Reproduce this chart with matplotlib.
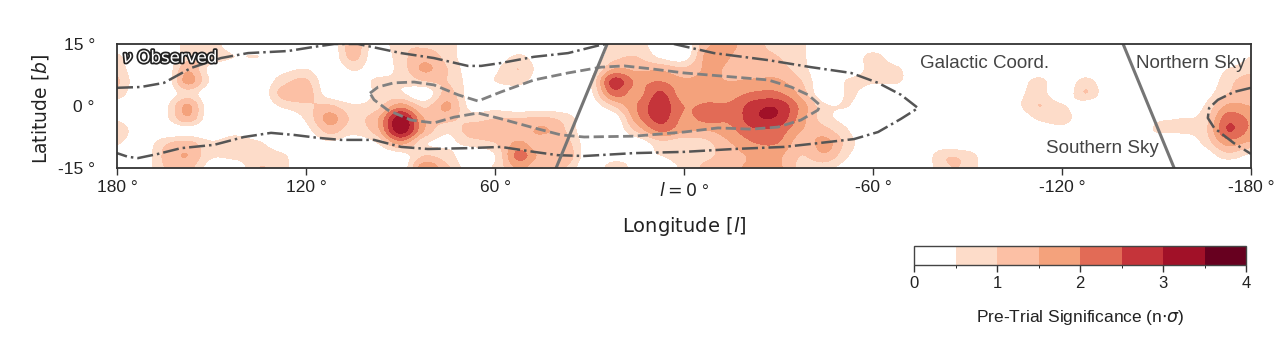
import numpy as np
import matplotlib
matplotlib.use("Agg")
import matplotlib.pyplot as plt
import matplotlib.patheffects as pe
from matplotlib.colors import ListedColormap, BoundaryNorm
from matplotlib.cm import ScalarMappable

# significance, one list per longitude (l = 180 down to -180, step 7.5)
# each list runs over latitude 15 down to -15, step 3
l_p1800 = [.2,.6,.8,1.1,.8,.2,.4,1.0,.6,0,0]
l_p1725 = [0,0,0,0,0,0,0,0,0,0,0]
l_p1650 = [0,0,0,0,0,.3,.3,0,.9,1.1,1.0]
l_p1575 = [.7,.8,1.4,1.7,.8,1.6,1.4,.2,1.2,1.5,1.2]
l_p1500 = [.8,.9,.3,.4,0,0,0,0,.6,.6,.2]
l_p1425 = [0,.5,0,0,0,0,0,.3,.8,.7,.1]
l_p1350 = [0,.5,0,0,0,0,0,0,.6,.8,1.0]
l_p1275 = [0,0,.3,.8,1.2,.6,0,0,.1,.6,.7]
l_p1200 = [0,0,.5,1.1,1.3,.9,.6,.3,0,0,0]
l_p1125 = [0,0,0,0,.2,1.1,1.7,1.2,.4,0,0]
l_p1050 = [1.3,1.2,.6,.1,0,.6,.9,.7,.1,0,0]
l_p0975 = [.2,.1,.2,.6,.6,.8,1.4,1.3,.5,0,0]
l_p0900 = [.9,.8,.7,.6,.6,1.8,3.3,3.3,1.7,.2,0]
l_p0825 = [.9,1.3,1.6,1.0,.1,.9,1.5,1.5,.6,1.0,1.9]
l_p0750 = [.7,.8,1.0,1.0,1.2,1.6,1.2,.6,.4,.7,1.1]
l_p0675 = [.2,.1,.2,.3,.2,.3,.8,1.3,.7,.1,.2]
l_p0600 = [0,.1,.4,.5,.2,.3,1.0,1.4,1.0,.5,.6]
l_p0525 = [0,.6,1.0,.7,.1,.1,1.0,1.2,1.6,2.2,1.6]
l_p0450 = [0,.1,.2,.1,0,.2,1.1,1.6,1.1,1.3,1.0]
l_p0375 = [0,0,0,0,0,.1,.8,1.0,1.2,1.4,1.0]
l_p0300 = [0,0,.2,.4,.3,.1,0,0,.1,.1,0]
l_p0225 = [.7,.8,1.5,2.7,2.2,1.0,.1,0,0,.2,.8]
l_p0150 = [.7,1.0,1.4,1.9,1.8,2.0,1.8,1.1,.1,.4,.3]
l_p0075 = [.2,.4,1.4,2.0,2.6,2.8,2.7,2.1,.8,.5,.3]
l_000 = [.1,.2,1.1,1.6,1.7,2.0,1.9,1.6,.6,.7,.6]
l_m0075 = [1.4,1.7,1.6,1.6,1.7,2.1,2.2,1.5,.9,.9,1.2]
l_m0150 = [1.6,1.5,1.4,1.5,1.8,2.1,2.1,1.9,1.5,1.3,1.4]
l_m0225 = [1.1,1.1,1.2,1.6,2.1,2.8,2.9,2.4,2.0,1.6,1.6]
l_m0300 = [.9,1.0,1.2,1.6,2.1,2.9,2.9,2.3,2.0,1.6,1.6]
l_m0375 = [.6,.6,.7,1.0,1.3,1.8,1.7,1.5,1.2,1.0,.8]
l_m0450 = [0,0,0,0,0,.6,.7,1.2,1.7,1.4,.7]
l_m0525 = [0,0,.1,.6,.6,.5,.3,.5,.7,.5,.2]
l_m0600 = [0,.7,.7,.6,.1,0,0,0,0,0,0]
l_m0675 = [0,.1,.6,.6,0,0,0,0,0,0,0]
l_m0750 = [0,0,0,0,0,0,0,0,0,0,0]
l_m0825 = [0,0,0,0,0,0,0,0,.1,.9,.9]
l_m0900 = [0,0,0,0,0,0,0,0,0,.8,.9]
l_m0975 = [0,0,0,0,0,0,0,0,0,0,0]
l_m1050 = [0,0,0,0,.2,.3,0,0,0,0,0]
l_m1125 = [0,0,0,.7,.8,1.0,.6,0,0,0,0]
l_m1200 = [0,0,0,0,0,.6,.8,.2,0,0,0]
l_m1275 = [0,0,0,.7,1.0,.1,0,0,0,0,0]
l_m1350 = [0,0,0,0,0,0,0,0,0,0,0]
l_m1425 = [0,0,0,0,0,0,0,0,0,0,0]
l_m1500 = [0,0,0,0,0,0,.4,.55,0,0,0]
l_m1575 = [.5,0,0,0,0,0,.5,.6,0,0,0]
l_m1650 = [0,0,0,0,.2,.5,.7,.8,.6,.1,0]
l_m1725 = [0,0,.5,.8,1.0,1.6,2.3,2.5,1.7,.8,0]
l_m1800 = [0,.5,.8,1.3,1.3,1.5,1.9,1.9,1.4,.4,0]

# dash-dot outline, three pieces
outer_a_lon = [180,172.4,165.1,156.5,147,138.4,125.7,117.5,111,103.5,89.8,79.4,68.6,64.4,58.1,47.6,36.8,26.3,24.4]
outer_a_lat = [4.4,4.6,5.6,9.2,11.6,12.8,13.3,14.3,15,15,12.8,11.6,9.7,9.7,10.4,11.9,12.8,14.8,15]
outer_b_lon = [3.2,-9.5,-26.7,-40.3,-53,-61.6,-68.9,-74.3,-68.9,-61.6,-54,-42.5,-31.7,-15.9,0,15.9,31.7,40,47.6,58.1,68.6,81.3,89.8,98.4,108.9,116.2,123.8,131.1,139.7,149.2,159.7,167,173.3,176.5,180]
outer_b_lat = [15,12.8,11.1,9.4,8,5.6,2.7,-0.5,-3.1,-6.3,-8,-9,-9.9,-10.4,-11.1,-11.4,-12.1,-11.9,-11.1,-9.9,-10.2,-10.4,-9.9,-8.2,-8.2,-7.7,-7,-6.5,-7.5,-9.4,-10.2,-11.6,-12.6,-12.3,-11.4]
outer_c_lon = [-180,-174.6,-169.5,-166.7,-166.3,-168.3,-174.6,-180]
outer_c_lat = [4.4,3.4,1.5,-0.5,-2.9,-5.3,-9,-11.6]

# dashed inner outline
inner_lon = [99.7,97.1,92.1,85.7,79.4,71.7,65.4,58.1,47.6,36.8,26.3,19,10.5,0,-15.9,-26.7,-34,-39.4,-43.2,-42.5,-37.1,-29.8,-21.3,-10.8,0,15.9,31.7,39,47.6,58.1,65.4,73,79.4,86.7,94,98.4,99.7]
inner_lat = [3.1,4.6,5.6,5.8,5.1,2.7,1.2,3.4,6.3,8,9.4,9.7,9,8,7,6.3,4.6,2.7,0.2,-1,-3.4,-5.1,-5.6,-5.3,-6.3,-7.3,-7.5,-7,-5.3,-3.1,-1.7,-2.7,-4.1,-3.4,-1,1.5,3.1]

# solid lines between northern and southern sky
horizon_a_lon = [24.4,40.6]
horizon_b_lon = [-139.4,-155.6]
horizon_lat = [15,-15]

x_ticks = [180,120,60,0,-60,-120,-180]
x_labels = ["180 °","120 °","60 °","$l = 0$ °","-60 °","-120 °","-180 °"]
y_ticks = [-15,0,15]
y_labels = ["-15 °","0 °","15 °"]
cbar_ticks = [0,1,2,3,4]
levels = [0,0.5,1,1.5,2,2.5,3,3.5,4]
colors = ["#ffffff","#fddcc9","#fcc0a5","#f4a27c","#e26b56","#c5343a","#a11128","#67001f"]

cmap = ListedColormap(colors)
norm = BoundaryNorm(levels, cmap.N)

sig = np.array([l_p1800,l_p1725,l_p1650,l_p1575,l_p1500,l_p1425,l_p1350,l_p1275,l_p1200,l_p1125,
                l_p1050,l_p0975,l_p0900,l_p0825,l_p0750,l_p0675,l_p0600,l_p0525,l_p0450,l_p0375,
                l_p0300,l_p0225,l_p0150,l_p0075,l_000,l_m0075,l_m0150,l_m0225,l_m0300,l_m0375,
                l_m0450,l_m0525,l_m0600,l_m0675,l_m0750,l_m0825,l_m0900,l_m0975,l_m1050,l_m1125,
                l_m1200,l_m1275,l_m1350,l_m1425,l_m1500,l_m1575,l_m1650,l_m1725,l_m1800]).T

# the reference text is squeezed sideways, a narrower face comes closer than DejaVu
narrow = ["Liberation Sans", "DejaVu Sans"]

W, H = 1280, 338
fig = plt.figure(figsize=(W/100, H/100), dpi=100)
ax = fig.add_axes([117/W, 1-168/H, (1251-117)/W, (168-44)/H])

ax.imshow(sig, extent=(183.75,-183.75,-16.5,16.5), aspect="auto", cmap=cmap, norm=norm,
          interpolation="catrom", interpolation_stage="data")

dark = "#555555"
ax.plot(outer_a_lon, outer_a_lat, color=dark, lw=1.8, ls="-.")
ax.plot(outer_b_lon, outer_b_lat, color=dark, lw=1.8, ls="-.")
ax.plot(outer_c_lon, outer_c_lat, color=dark, lw=1.8, ls="-.")
ax.plot(inner_lon, inner_lat, color="#808080", lw=2, ls="--")
ax.plot(horizon_a_lon, horizon_lat, color="#757575", lw=2.2)
ax.plot(horizon_b_lon, horizon_lat, color="#757575", lw=2.2)

ax.set_xlim(180,-180)
ax.set_ylim(-15,15)
ax.set_xticks(x_ticks)
ax.set_xticklabels(x_labels, fontsize=12.5, color="#222222", family=narrow)
ax.set_yticks(y_ticks)
ax.set_yticklabels(y_labels, fontsize=12.5, color="#222222", family=narrow)
ax.tick_params(axis="x", length=5, width=1, color="#333333", pad=4)
ax.tick_params(axis="y", length=0, pad=16)
ax.set_xlabel("Longitude [$l$]", fontsize=14, color="#222222")
ax.xaxis.set_label_coords(0.5, -0.375)
ax.set_ylabel("Latitude [$b$]", fontsize=13.5, color="#222222")
ax.yaxis.set_label_coords(-0.058, 0.476)
for s in ax.spines.values():
    s.set_linewidth(1.3)
    s.set_color("#333333")

ax.text(0.005, 0.89, r"$\nu$ Observed", transform=ax.transAxes, fontsize=12, color="white", va="center",
        path_effects=[pe.withStroke(linewidth=2.5, foreground="#222222")])
ax.text(0.708, 0.84, "Galactic Coord.", transform=ax.transAxes, fontsize=13.5, color="#444444", va="center", family=narrow)
ax.text(0.8985, 0.84, "Northern Sky", transform=ax.transAxes, fontsize=13.5, color="#444444", va="center", family=narrow)
ax.text(0.819, 0.155, "Southern Sky", transform=ax.transAxes, fontsize=13.5, color="#444444", va="center", family=narrow)

cax = fig.add_axes([914/W, 1-265/H, (1246-914)/W, (265-246)/H])
cb = fig.colorbar(ScalarMappable(norm=norm, cmap=cmap), cax=cax, orientation="horizontal",
                  ticks=cbar_ticks, spacing="proportional")
cb.ax.set_xticklabels([str(t) for t in cbar_ticks], fontsize=12, color="#222222", family=narrow)
cb.ax.tick_params(length=5, width=1, color="#333333", pad=3)
cb.outline.set_edgecolor("#444444")
cb.outline.set_linewidth(1)
cb.set_label(r"Pre-Trial Significance (n$\cdot\sigma$)", fontsize=12.5, color="#222222", labelpad=12, family=narrow)

fig.savefig("out.png", dpi=100)
